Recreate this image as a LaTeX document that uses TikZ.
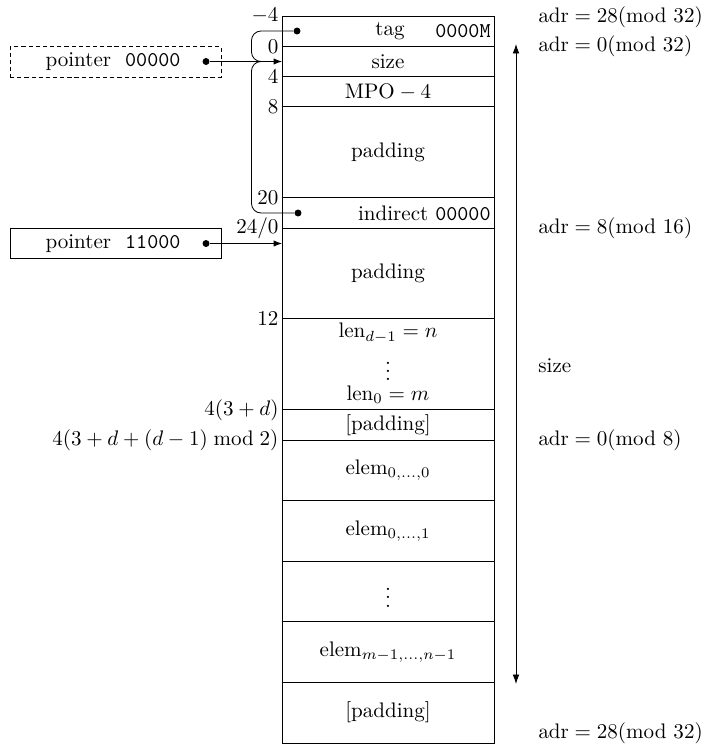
\documentclass[tikz,border=0pt]{standalone}
\usepackage{amsmath}
\usetikzlibrary{arrows.meta}
\begin{document}
\begin{tikzpicture}[x=0.475pt,y=-0.475pt]
\tikzset{
  lbl/.style={anchor=east, inner sep=1pt},
  adrlbl/.style={anchor=west, inner sep=0pt},
  celltxt/.style={inner sep=0pt},
  dotc/.style={circle, fill, inner sep=0pt, minimum size=3.3pt},
  ptrbox/.style={draw, minimum width=100.2pt, minimum height=14.4pt, inner sep=0pt},
  ptrarrow/.style={-{Latex[length=4pt,width=3pt]}},
  sizearrow/.style={{Latex[length=4.5pt,width=3.2pt]}-{Latex[length=4.5pt,width=3.2pt]}},
  brace/.style={rounded corners=4.5pt},
  finedash/.style={dash pattern=on 2pt off 1.4pt}
}
\useasboundingbox (0,0) rectangle (705,752);
% memory column
\draw (282,16) rectangle (494,743);
\foreach \yy in {46.3,76.6,106.9,197.7,228,318.9,409.8,440.1,500.6,561.2,621.8,682.4}
  \draw (282,\yy) -- (494,\yy);
% offsets on the left
\node[lbl] (om4) at (281,16) {$-4$};
\node[lbl] (o0) at (281,46.3) {$0$};
\node[lbl] (o4) at (281,76.6) {$4$};
\node[lbl] (o8) at (281,106.9) {$8$};
\node[lbl] (o20) at (281,197.7) {$20$};
\node[lbl] (o24) at (281,228) {$24/0$};
\node[lbl] (o12) at (281,318.9) {$12$};
\node[lbl] (o3d) at (281,409.8) {$4(3+d)$};
\node[lbl] (o3dm) at (281,440.1) {$4(3+d+(d-1) \bmod 2)$};
% cell contents
\node[celltxt] (tag) at (390,31) {tag};
\node[celltxt, anchor=east] (tagcode) at (491,31) {\texttt{0000M}};
\node[celltxt] (size) at (388,61.5) {size};
\node[celltxt] (mpo) at (388,92) {$\mathrm{MPO}-4$};
\node[celltxt] (pad1) at (388,152) {padding};
\node[celltxt, anchor=east] (indir) at (491,213) {indirect \texttt{00000}};
\node[celltxt] (pad2) at (388,273.5) {padding};
\node[celltxt] (lend) at (388,333) {$\mathrm{len}_{d-1}=n$};
\node[celltxt] (lendots) at (388,365) {$\vdots$};
\node[celltxt] (len0) at (388,395) {$\mathrm{len}_{0}=m$};
\node[celltxt] (pad3) at (388,425) {[padding]};
\node[celltxt] (e0) at (388,470.5) {$\mathrm{elem}_{0,\ldots,0}$};
\node[celltxt] (e1) at (388,531) {$\mathrm{elem}_{0,\ldots,1}$};
\node[celltxt] (edots) at (388,591.5) {$\vdots$};
\node[celltxt] (elast) at (388,652) {$\mathrm{elem}_{m-1,\ldots,n-1}$};
\node[celltxt] (pad4) at (388,712.5) {[padding]};
% pointer boxes
\node[ptrbox, finedash] (p1) at (115.5,62) {};
\node[celltxt] (p1t) at (113,62) {pointer\ \ \texttt{00000}};
\node[dotc] (p1d) at (206,61.5) {};
\node[ptrbox] (p2) at (115.5,243.5) {};
\node[celltxt] (p2t) at (113,243.5) {pointer\ \ \texttt{11000}};
\node[dotc] (p2d) at (206,243.5) {};
\coordinate (t1) at (282,61.5);
\coordinate (t2) at (282,243.5);
\coordinate (j1) at (266,61.5);
\draw[ptrarrow] (p1d) -- (t1);
\draw[ptrarrow] (p2d) -- (t2);
% brace from tag and indirect
\node[dotc] (tagd) at (297,31) {};
\node[dotc] (indd) at (298,213) {};
\draw[brace] (tagd) -| (251.5,61.5) -- (j1);
\draw[brace] (j1) -- (251.5,61.5) |- (indd);
% size arrow
\coordinate (s1) at (516,44);
\coordinate (s2) at (516,684);
\draw[sizearrow] (s1) -- (s2);
\node[adrlbl] (sz) at (538,366) {size};
% address labels
\node[adrlbl] (a1) at (538,17) {$\mathrm{adr}=28(\mathrm{mod}\ 32)$};
\node[adrlbl] (a2) at (538,46.5) {$\mathrm{adr}=0(\mathrm{mod}\ 32)$};
\node[adrlbl] (a3) at (538,228.5) {$\mathrm{adr}=8(\mathrm{mod}\ 16)$};
\node[adrlbl] (a4) at (538,440) {$\mathrm{adr}=0(\mathrm{mod}\ 8)$};
\node[adrlbl] (a5) at (538,733) {$\mathrm{adr}=28(\mathrm{mod}\ 32)$};
\end{tikzpicture}
\end{document}
